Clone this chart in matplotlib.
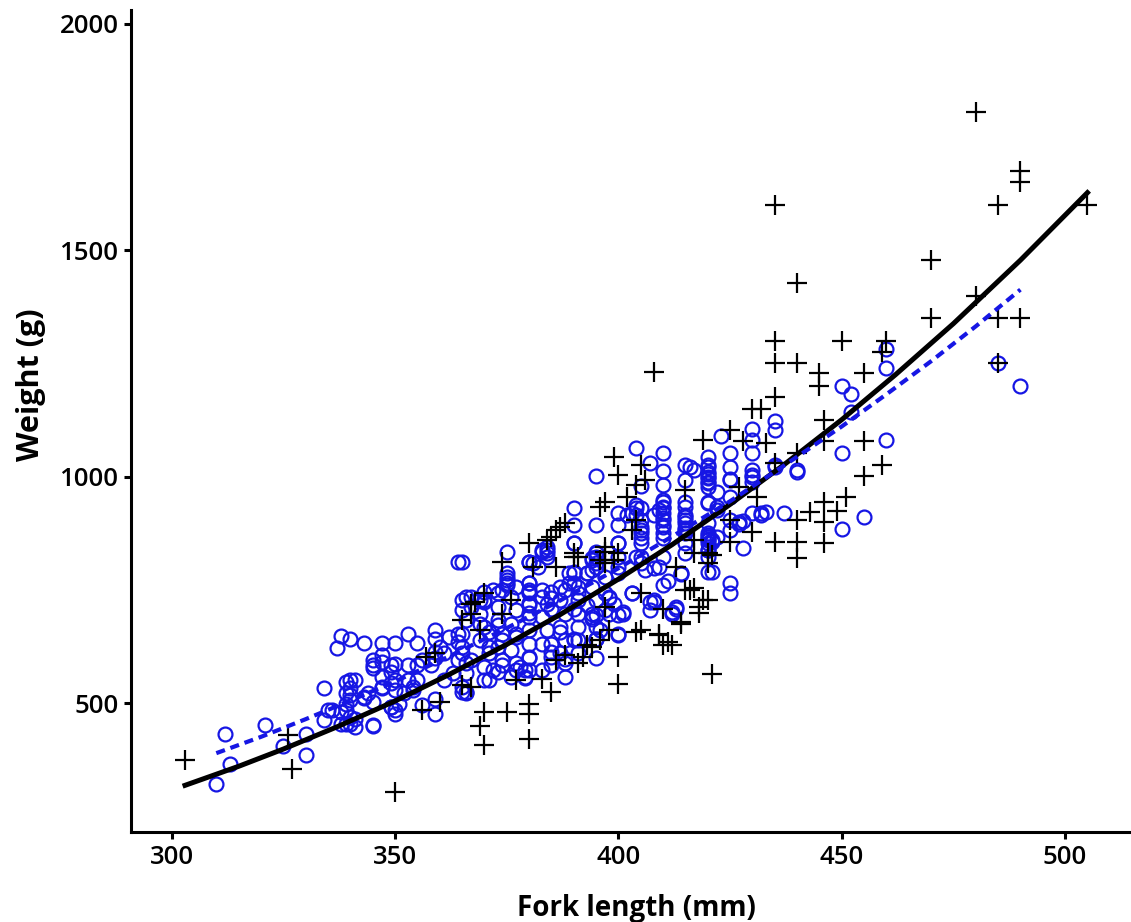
import matplotlib
matplotlib.use("Agg")
import matplotlib.pyplot as plt

# fitted curves, values
black_fit_len = [303, 315, 325, 337, 350, 362, 375, 387, 400, 412, 425, 437, 450, 462, 475, 490, 505]
black_fit_wt = [319, 361, 399, 448, 505, 563, 630, 696, 774, 850, 939, 1026, 1126, 1225, 1338, 1478, 1627]
blue_fit_len = [310, 320, 330, 340, 350, 362, 375, 387, 400, 412, 425, 437, 450, 460, 470, 480, 490]
blue_fit_wt = [390, 426, 465, 506, 548, 603, 666, 727, 798, 868, 946, 1024, 1111, 1182, 1255, 1332, 1413]

# crosses (black)
cross_len = [
    303, 326, 327, 350, 480, 490, 490, 485, 505, 435,
    470, 440, 480, 470, 485, 490, 485, 435, 450, 460,
    459, 435, 440, 445, 445, 455, 446, 455, 446, 459,
    455, 451, 446, 449, 446, 446, 435, 430, 432, 425,
    419, 428, 433, 440, 435, 427, 431, 443, 440, 430,
    435, 440, 425, 440, 425, 408, 399, 405, 400, 406,
    404, 415, 402, 397, 396, 388, 386, 385, 380, 384,
    391, 390, 404, 403, 417, 417, 420, 421, 400, 397,
    381, 386, 413, 420, 396, 415, 420, 418, 417, 414,
    405, 409, 410, 412, 400, 400, 421, 392, 391, 393,
    383, 385, 380, 380, 380, 410, 405, 398, 396, 394,
    388, 386, 365, 368, 370, 367, 369, 374, 376, 357,
    359, 365, 367, 356, 360, 370, 375, 369, 370, 377,
    387, 374, 390, 397, 397, 399, 416, 418, 414, 419,
    404, 409, 411, 397, 367,
]
cross_wt = [
    375, 430, 355, 305, 1805, 1675, 1650, 1600, 1600, 1600,
    1478, 1428, 1400, 1350, 1350, 1350, 1250, 1300, 1300, 1300,
    1275, 1250, 1250, 1230, 1200, 1230, 1125, 1080, 1080, 1026,
    1002, 955, 944, 925, 901, 854, 1177, 1150, 1150, 1103,
    1081, 1080, 1074, 1052, 1030, 978, 956, 923, 904, 879,
    857, 857, 857, 820, 904, 1232, 1044, 1026, 1004, 993,
    982, 971, 956, 945, 934, 897, 882, 868, 853, 860,
    823, 823, 904, 882, 860, 831, 831, 827, 831, 845,
    801, 801, 801, 809, 816, 751, 729, 700, 754, 680,
    662, 650, 628, 628, 602, 543, 564, 602, 588, 628,
    554, 525, 499, 477, 422, 709, 743, 662, 639, 625,
    606, 595, 684, 724, 743, 698, 661, 698, 728, 603,
    610, 540, 536, 485, 503, 481, 481, 451, 407, 551,
    890, 812, 831, 835, 809, 816, 750, 713, 676, 728,
    658, 654, 636, 713, 720,
]

# open circles (blue)
circ_len = [
    485, 490, 460, 460, 450, 452, 452, 450, 460, 455,
    450, 435, 435, 430, 430, 430, 423, 425, 420, 425,
    425, 420, 420, 420, 420, 420, 416, 417, 430, 430,
    430, 435, 440, 420, 422, 425, 422, 430, 432, 433,
    437, 425, 427, 425, 420, 420, 421, 428, 415, 415,
    415, 420, 420, 420, 420, 420, 425, 430, 435, 440,
    420, 422, 432, 427, 428, 420, 421, 420, 420, 425,
    425, 404, 410, 407, 410, 395, 410, 405, 415, 415,
    410, 410, 410, 410, 410, 410, 410, 409, 408, 415,
    415, 415, 415, 404, 404, 405, 405, 405, 402, 400,
    400, 400, 390, 390, 390, 395, 420, 420, 422, 421,
    414, 415, 384, 383, 384, 380, 381, 395, 394, 395,
    393, 390, 400, 400, 404, 405, 408, 410, 414, 411,
    410, 408, 407, 413, 412, 403, 400, 401, 400, 398,
    399, 395, 395, 395, 395, 394, 390, 388, 388, 388,
    385, 385, 385, 387, 379, 379, 380, 385, 383, 389,
    389, 393, 394, 380, 380, 380, 380, 385, 385, 391,
    390, 337, 338, 340, 343, 347, 350, 353, 355, 359,
    359, 360, 365, 365, 367, 369, 372, 375, 375, 374,
    377, 380, 364, 364, 362, 369, 371, 373, 371, 374,
    377, 345, 345, 347, 349, 350, 353, 355, 356, 358,
    359, 359, 361, 364, 365, 366, 340, 340, 340, 339,
    338, 340, 340, 338, 336, 345, 343, 344, 345, 347,
    349, 347, 349, 350, 350, 351, 353, 355, 354, 352,
    354, 356, 359, 359, 361, 363, 365, 366, 370, 372,
    374, 377, 378, 379, 364, 365, 375, 384, 383, 384,
    380, 382, 390, 395, 395, 375, 375, 375, 380, 370,
    370, 404, 405, 403, 405, 405, 405, 410, 410, 410,
    410, 415, 415, 415, 420, 420, 420, 400, 400, 395,
    394, 405, 406, 409, 390, 390, 388, 393, 394, 398,
    401, 398, 403, 407, 408, 413, 412, 400, 395, 390,
    310, 313, 312, 321, 325, 330, 330, 334, 335, 334,
    339, 341, 339, 340, 339, 341, 339, 341, 343, 345,
    345, 347, 347, 349, 350, 350, 349, 366, 367, 366,
    365, 365, 367, 366, 365, 366, 370, 369, 370, 369,
    371, 370, 371, 373, 373, 373, 374, 373, 374, 373,
    376, 377, 376, 377, 376, 377, 376, 380, 380, 380,
    380, 380, 380, 380, 383, 384, 383, 384, 383, 385,
    383, 387, 387, 388, 387, 388, 387, 391, 391, 391,
    391, 391, 391, 394, 395, 394, 396, 397, 397, 397,
]
circ_wt = [
    1250, 1200, 1282, 1241, 1201, 1182, 1142, 1053, 1081, 912,
    885, 1124, 1103, 1105, 1081, 1053, 1090, 1053, 1044, 1022,
    993, 1022, 1011, 1000, 989, 978, 1022, 1015, 1015, 1000,
    989, 1022, 1011, 941, 967, 956, 927, 921, 919, 923,
    921, 904, 901, 882, 871, 853, 860, 843, 912, 882,
    853, 790, 1026, 1006, 997, 986, 994, 1004, 1026, 1014,
    945, 933, 916, 896, 903, 863, 857, 838, 823, 765,
    743, 1063, 1053, 1030, 1013, 1002, 982, 980, 1026, 993,
    949, 934, 919, 904, 890, 875, 864, 927, 916, 945,
    916, 898, 886, 930, 916, 890, 875, 853, 916, 919,
    893, 853, 930, 893, 853, 893, 875, 860, 868, 790,
    787, 831, 838, 838, 823, 812, 809, 831, 820, 809,
    787, 787, 801, 787, 823, 823, 798, 823, 785, 770,
    761, 724, 707, 709, 697, 743, 695, 702, 650, 732,
    720, 695, 669, 641, 601, 685, 639, 598, 589, 557,
    632, 613, 584, 658, 573, 555, 599, 746, 735, 787,
    765, 787, 794, 765, 743, 721, 699, 732, 709, 743,
    709, 623, 648, 642, 633, 633, 633, 652, 633, 661,
    643, 624, 728, 706, 735, 727, 750, 779, 765, 750,
    757, 750, 654, 636, 647, 676, 658, 673, 624, 639,
    654, 595, 584, 606, 584, 587, 584, 584, 595, 584,
    613, 599, 610, 595, 610, 588, 551, 533, 518, 499,
    481, 470, 455, 455, 485, 451, 514, 522, 503, 533,
    544, 558, 492, 485, 477, 499, 551, 551, 536, 522,
    529, 496, 477, 510, 551, 566, 525, 525, 551, 573,
    584, 573, 580, 558, 812, 812, 835, 845, 835, 831,
    812, 801, 853, 823, 801, 787, 772, 761, 765, 746,
    724, 938, 930, 919, 904, 882, 864, 945, 930, 910,
    893, 934, 904, 875, 897, 868, 838, 853, 823, 835,
    816, 809, 794, 801, 790, 765, 750, 717, 698, 735,
    698, 698, 743, 724, 728, 713, 702, 654, 643, 643,
    322, 365, 433, 452, 406, 387, 433, 533, 485, 463,
    547, 551, 522, 507, 485, 466, 455, 448, 512, 452,
    577, 591, 536, 569, 551, 529, 492, 735, 713, 684,
    654, 624, 595, 566, 536, 522, 728, 698, 669, 639,
    610, 580, 551, 743, 713, 684, 654, 624, 595, 569,
    735, 706, 676, 647, 618, 588, 558, 746, 717, 691,
    661, 632, 603, 573, 750, 720, 691, 661, 632, 603,
    573, 757, 728, 698, 669, 639, 610, 757, 728, 698,
    669, 639, 610, 757, 728, 691, 661, 779, 743, 706,
]

x_ticks = [300, 350, 400, 450, 500]
y_ticks = [500, 1000, 1500, 2000]

BLUE = '#1616e4'

plt.rcParams['font.family'] = ['Open Sans', 'DejaVu Sans']

fig = plt.figure(figsize=(11.31, 9.22), dpi=100)
ax = fig.add_axes([0.1158, 0.0976, 0.8842, 0.8915])

ax.plot(circ_len, circ_wt, linestyle='none', marker='o', markersize=10,
        markerfacecolor='none', markeredgecolor=BLUE, markeredgewidth=1.6, zorder=2)
ax.plot(cross_len, cross_wt, linestyle='none', marker='+', markersize=14,
        color='black', markeredgewidth=1.6, zorder=3)

ax.plot(black_fit_len, black_fit_wt, color='black', lw=3.6, zorder=4)
ax.plot(blue_fit_len, blue_fit_wt, color=BLUE, lw=3, dashes=(2.2, 1.4), zorder=5)

ax.set_xlim(290.9, 514.75)
ax.set_ylim(216, 2030)
ax.set_xticks(x_ticks)
ax.set_yticks(y_ticks)

for s in ['top', 'right']:
    ax.spines[s].set_visible(False)
for s in ['left', 'bottom']:
    ax.spines[s].set_linewidth(2.2)

ax.tick_params(direction='out', length=5, width=2.2, labelsize=18.5, pad=4)
for lab in ax.get_xticklabels() + ax.get_yticklabels():
    lab.set_fontweight('semibold')

ax.set_xlabel('Fork length (mm)', fontsize=20, fontweight='bold')
ax.set_ylabel('Weight (g)', fontsize=22, fontweight='bold')
ax.xaxis.set_label_coords(0.505, -0.075)
ax.yaxis.set_label_coords(-0.085, 0.544)

fig.savefig('out.png', dpi=100)
